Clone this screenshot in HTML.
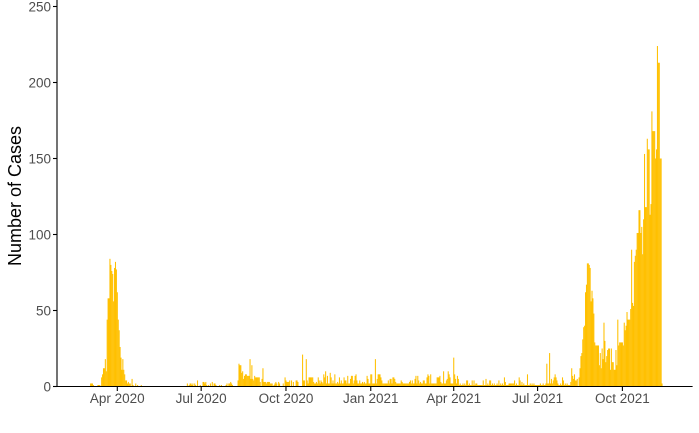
<!DOCTYPE html>
<html><head><meta charset="utf-8">
<style>
html,body{margin:0;padding:0;background:#fff;}
svg{display:block;font-family:"Liberation Sans",sans-serif;}
</style></head>
<body>
<svg id="chart" width="699" height="433" viewBox="0 0 699 433" xmlns="http://www.w3.org/2000/svg">
<g id="bars"></g>
<g id="axes"></g>
<text x="0" y="0" transform="translate(21,196) rotate(-90)" text-anchor="middle" font-size="18" fill="#000">Number of Cases</text>
</svg>
<script>
const startDate = "2020-03-01";
const dailyCases = [
0,0,2,2,2,1,0,0,0,0, 1,1,1,0,6,8,12,12,18,10, 44,58,58,84,80,76,74,56,78,82, 77,62,44,37,26,19,11,18,11,8, 4,4,2,3,2,2,0,5,
1,0,0,2,0,1,0,0,0,1, 0,0,0,0,0,0,0,0,0,0,
0,0,0,0,0,0,0,0,0,0, 0,0,0,0,0,0,0,0,0,0, 0,0,0,0,0,0,0,0,0,0, 0,0,0,0,0,0,0,0,0,
2,0,1,2,2,1,2,0,2,1, 0,4,0,0,1,0,0,3,3,2, 3,1,0,1,0,2,0,3,0,2, 2,1,0,0,0,1,0,1,0,0, 0,0,1,2,0,2,2,3,2,1, 0,0,0,0,0,
4,15,14,14,9,10,5,7,8,8, 7,7,7,18,5,14,5,4,7,6, 6,6,6,6,3,0,5,12,3,3, 3,2,3,3,3,2,2,2,0,1, 2,3,2,0,3,2,0,0,0,2, 0,6,4,3,3,3,4,0,4,0, 3,0,0,4,4,3,0,0,0,0,
21,4,4,0,18,4,2,6,6,6, 6,6,3,2,2,3,2,6,4,2, 4,3,2,8,6,10,2,7,2,2, 9,6,2,4,2,8,2,2,3,2, 6,2,4,2,2,6,4,4,2,7,
2,2,5,7,7,2,4,7,8,4, 2,2,4,2,2,3,2,3,2,2, 7,5,2,2,8,8,2,2,2,18, 2,5,8,8,8,6,4,2,2,2, 2,2,2,4,2,5,5,2,6,6,
5,3,2,2,2,2,2,4,3,2, 2,2,2,2,2,2,3,4,2,4, 2,2,5,7,2,7,4,2,3,2, 2,4,4,2,2,6,8,7,2,8, 2,2,2,2,2,2,6,6,6,7,
3,2,2,10,2,2,4,5,10,8, 6,2,2,2,19,8,5,2,7,5, 1,2,1,1,2,1,2,1,4,4, 1,2,1,1,4,1,4,1,2,2, 1,1,1,1,1,1,4,1,1,5,
1,2,1,4,4,1,2,1,2,1, 1,2,1,4,1,2,1,2,1,6, 3,1,1,1,2,2,2,2,2,2, 4,1,2,1,1,6,4,1,3,1, 2,1,1,1,8,1,1,2,1,2,
1,2,1,1,1,1,1,1,2,1, 1,2,1,1,2,15,2,2,22,2, 5,2,4,6,8,6,4,2,1,1, 2,1,6,4,1,2,1,2,1,1, 1,3,
12,7,5,8,4,4,5,0,6,12,
20,22,31,39,40,62,67,81,81, 80,78,56,63,58,48,29,27,27, 27,27,14,22,12,25,18,42,30, 16,20,24,25,25,11,25,16,16,
11,11,24,14,44,27,29,29,29, 29,27,42,37,40,49,44,44,44, 51,90,55,53,82,86,90,101,101, 116,116,101,105,87,110,153,118,118,
163,156,156,113,120,181,168,168,168, 150,156,224,213,213,150,150,2
];
const yTicks = [0, 50, 100, 150, 200, 250];
const xTickDates = ["2020-04-01","2020-07-01","2020-10-01","2021-01-01","2021-04-01","2021-07-01","2021-10-01"];
const xTickLabels = ["Apr 2020","Jul 2020","Oct 2020","Jan 2021","Apr 2021","Jul 2021","Oct 2021"];

const NS = "http://www.w3.org/2000/svg";
const DAY = 86400000;
const t0 = Date.parse(startDate);
const pxPerDay = 0.9217;
const xRefDay = (Date.parse("2020-04-01") - t0) / DAY;
function xScale(day){ return 117.3 + (day - xRefDay) * pxPerDay; }
function yScale(v){ return 386.5 - v * 1.52; }

const bars = document.getElementById('bars');
dailyCases.forEach((v, d) => {
  if (v <= 0) return;
  const r = document.createElementNS(NS, 'rect');
  
  
  r.setAttribute('x', (xScale(d) - 0.5).toFixed(2));
  r.setAttribute('width', '1.05');
  r.setAttribute('y', yScale(v).toFixed(2));
  r.setAttribute('height', (yScale(0) - yScale(v)).toFixed(2));
  r.setAttribute('fill', '#FFC000');
  bars.appendChild(r);
});

const axes = document.getElementById('axes');
function line(x1,y1,x2,y2,name){
  const l = document.createElementNS(NS,'line');
  
  
  l.setAttribute('x1',x1);l.setAttribute('y1',y1);l.setAttribute('x2',x2);l.setAttribute('y2',y2);
  l.setAttribute('stroke','#000');l.setAttribute('stroke-width','1.1');
  axes.appendChild(l);
}
line(57, 0, 57, 387, 'y-axis-line');
line(56.5, 386.5, 692.6, 386.5, 'x-axis-line');
yTicks.forEach(t => {
  const y = yScale(t);
  line(53, y, 57, y, 'y-tick');
  const tx = document.createElementNS(NS,'text');
  
  
  tx.setAttribute('x', 51); tx.setAttribute('y', y + 5);
  tx.setAttribute('text-anchor','end'); tx.setAttribute('font-size','13.5');
  tx.setAttribute('fill','#4d4d4d');
  tx.textContent = t;
  axes.appendChild(tx);
});
xTickDates.forEach((ds, i) => {
  const x = xScale((Date.parse(ds) - t0) / DAY);
  line(x, 386.5, x, 391, 'x-tick');
  const tx = document.createElementNS(NS,'text');
  
  
  tx.setAttribute('x', x); tx.setAttribute('y', 403);
  tx.setAttribute('text-anchor','middle'); tx.setAttribute('font-size','13.5');
  tx.setAttribute('fill','#4d4d4d');
  tx.textContent = xTickLabels[i];
  axes.appendChild(tx);
});
</script>
</body></html>
